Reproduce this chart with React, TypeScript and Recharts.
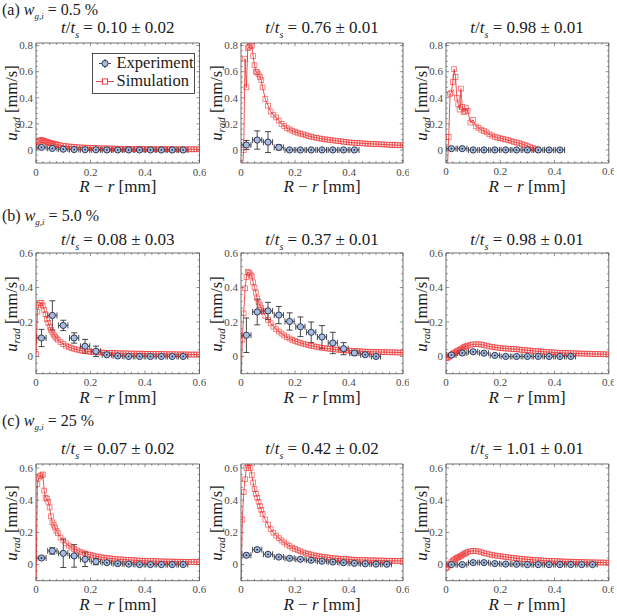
import React from "react";
import { ScatterChart, Scatter, XAxis, YAxis, ErrorBar } from "recharts";

// shared x grid of the simulation curves [mm]
const SIM_X = [
  0, 0.005, 0.01, 0.015, 0.02, 0.025, 0.03, 0.035, 0.04, 0.045, 0.05, 0.055, 0.06, 0.065, 0.07, 0.075, 0.08,
  0.09, 0.1, 0.11, 0.12, 0.13, 0.14, 0.15, 0.16, 0.17, 0.18, 0.19, 0.2,
  0.21, 0.22, 0.23, 0.24, 0.25, 0.26, 0.27, 0.28, 0.29, 0.3,
  0.31, 0.32, 0.33, 0.34, 0.35, 0.36, 0.37, 0.38, 0.39, 0.4,
  0.41, 0.42, 0.43, 0.44, 0.45, 0.46, 0.47, 0.48, 0.49, 0.5,
  0.51, 0.52, 0.53, 0.54, 0.55, 0.56, 0.57, 0.58, 0.59, 0.6,
];

// simulation u_rad [mm/s]
const SIM_A1 = [
  0.03, 0.06, 0.07, 0.075, 0.075, 0.073, 0.07, 0.066, 0.062, 0.058, 0.055, 0.052, 0.049, 0.046, 0.044, 0.042, 0.04,
  0.036, 0.032, 0.029, 0.027, 0.025, 0.023, 0.021, 0.02, 0.019, 0.018, 0.017, 0.016,
  0.015, 0.014, 0.013, 0.013, 0.012, 0.012, 0.011, 0.011, 0.01, 0.01,
  0.009, 0.009, 0.009, 0.008, 0.008, 0.008, 0.007, 0.007, 0.007, 0.007,
  0.006, 0.006, 0.006, 0.006, 0.006, 0.006, 0.006, 0.006, 0.006, 0.006,
  0.005, 0.005, 0.005, 0.005, 0.005, 0.005, 0.005, 0.005, 0.005, 0.005,
];
const SIM_A2 = [
  null, -0.15, 0.0, 0.7, 0.48, 0.78, 0.79, 0.8, 0.8, 0.72, 0.65, 0.6, 0.595, 0.58, 0.56, 0.535, 0.48,
  0.39, 0.34, 0.295, 0.27, 0.25, 0.225, 0.2, 0.183, 0.168, 0.157, 0.148, 0.14,
  0.132, 0.125, 0.12, 0.113, 0.107, 0.102, 0.097, 0.093, 0.089, 0.085,
  0.082, 0.079, 0.076, 0.074, 0.071, 0.068, 0.066, 0.063, 0.061, 0.058,
  0.056, 0.055, 0.053, 0.052, 0.051, 0.049, 0.048, 0.047, 0.046, 0.045,
  0.044, 0.043, 0.042, 0.041, 0.04, 0.039, 0.038, 0.037, 0.036, 0.036,
];
const SIM_A3 = [
  null, -0.15, 0.1, 0.43, 0.44, 0.52, 0.62, 0.56, 0.4, 0.35, 0.31, 0.47, 0.33, 0.29, 0.3, 0.32, 0.3,
  0.21, 0.23, 0.18, 0.17, 0.155, 0.145, 0.135, 0.12, 0.11, 0.1, 0.095, 0.09,
  0.085, 0.08, 0.075, 0.068, 0.062, 0.057, 0.052, 0.045, 0.038, 0.03,
  0.022, 0.015, 0.008, 0.002, null, null, null, null, null, null,
  null, null, null, null, null, null, null, null, null, null,
  null, null, null, null, null, null, null, null, null, null,
];
const SIM_B1 = [
  0.015, 0.26, 0.3, 0.31, 0.31, 0.295, 0.27, 0.245, 0.215, 0.195, 0.172, 0.155, 0.14, 0.127, 0.115, 0.105, 0.097,
  0.083, 0.072, 0.062, 0.055, 0.049, 0.044, 0.04, 0.036, 0.033, 0.031, 0.029, 0.027,
  0.026, 0.025, 0.024, 0.023, 0.022, 0.021, 0.021, 0.02, 0.019, 0.019,
  0.018, 0.018, 0.018, 0.017, 0.017, 0.017, 0.016, 0.016, 0.016, 0.016,
  0.015, 0.015, 0.015, 0.014, 0.014, 0.014, 0.014, 0.013, 0.013, 0.013,
  0.013, 0.012, 0.012, 0.012, 0.012, 0.011, 0.011, 0.011, 0.011, 0.011,
];
const SIM_B2 = [
  -0.15, 0.098, 0.25, 0.395, 0.46, 0.49, 0.485, 0.475, 0.465, 0.43, 0.4, 0.37, 0.336, 0.315, 0.297, 0.28, 0.263,
  0.235, 0.212, 0.192, 0.173, 0.158, 0.145, 0.133, 0.122, 0.112, 0.104, 0.096, 0.09,
  0.084, 0.079, 0.074, 0.07, 0.066, 0.062, 0.059, 0.056, 0.053, 0.05,
  0.048, 0.046, 0.044, 0.042, 0.04, 0.039, 0.037, 0.036, 0.035, 0.034,
  0.033, 0.032, 0.031, 0.03, 0.029, 0.028, 0.028, 0.027, 0.027, 0.026,
  0.026, 0.025, 0.025, 0.025, 0.024, 0.024, 0.024, 0.023, 0.023, 0.023,
];
const SIM_B3 = [
  -0.01, -0.008, -0.003, 0.004, 0.01, 0.015, 0.02, 0.025, 0.03, 0.034, 0.038, 0.042, 0.047, 0.052, 0.056, 0.06, 0.063,
  0.067, 0.07, 0.071, 0.071, 0.069, 0.066, 0.062, 0.058, 0.055, 0.053, 0.051, 0.049,
  0.047, 0.046, 0.045, 0.044, 0.043, 0.042, 0.04, 0.038, 0.037, 0.036,
  0.034, 0.033, 0.031, 0.03, 0.029, 0.027, 0.026, 0.025, 0.024, 0.023,
  0.022, 0.021, 0.021, 0.02, 0.019, 0.019, 0.018, 0.018, 0.017, 0.017,
  0.016, 0.016, 0.015, 0.015, 0.014, 0.014, 0.013, 0.013, 0.012, 0.012,
];
const SIM_C1 = [
  -0.12, 0.5, 0.54, 0.55, 0.555, 0.56, 0.46, 0.415, 0.41, 0.39, 0.355, 0.3, 0.262, 0.248, 0.23, 0.21, 0.195,
  0.168, 0.15, 0.132, 0.118, 0.106, 0.097, 0.089, 0.081, 0.075, 0.069, 0.064, 0.06,
  0.056, 0.052, 0.049, 0.046, 0.043, 0.041, 0.039, 0.037, 0.035, 0.033,
  0.032, 0.031, 0.03, 0.029, 0.028, 0.027, 0.026, 0.025, 0.024, 0.024,
  0.023, 0.022, 0.022, 0.021, 0.021, 0.02, 0.02, 0.019, 0.019, 0.019,
  0.018, 0.018, 0.018, 0.017, 0.017, 0.017, 0.016, 0.016, 0.016, 0.016,
];
const SIM_C2 = [
  -0.15, 0.28, 0.45, 0.53, 0.6, 0.615, 0.63, 0.6, 0.555, 0.51, 0.47, 0.44, 0.415, 0.39, 0.363, 0.34, 0.315,
  0.28, 0.248, 0.22, 0.198, 0.18, 0.164, 0.15, 0.138, 0.125, 0.115, 0.105, 0.097,
  0.09, 0.083, 0.076, 0.07, 0.066, 0.062, 0.058, 0.055, 0.052, 0.049,
  0.047, 0.045, 0.042, 0.04, 0.039, 0.037, 0.036, 0.035, 0.034, 0.032,
  0.031, 0.03, 0.03, 0.029, 0.028, 0.028, 0.027, 0.027, 0.026, 0.026,
  0.025, 0.025, 0.025, 0.024, 0.024, 0.024, 0.023, 0.023, 0.023, 0.023,
];
const SIM_C3 = [
  -0.02, -0.015, -0.005, 0.005, 0.015, 0.024, 0.03, 0.036, 0.041, 0.045, 0.049, 0.054, 0.059, 0.064, 0.069, 0.074, 0.078,
  0.083, 0.085, 0.085, 0.082, 0.077, 0.072, 0.068, 0.064, 0.06, 0.057, 0.054, 0.052,
  0.05, 0.047, 0.045, 0.043, 0.041, 0.039, 0.037, 0.035, 0.034, 0.032,
  0.031, 0.029, 0.028, 0.027, 0.026, 0.025, 0.024, 0.023, 0.022, 0.022,
  0.021, 0.02, 0.02, 0.019, 0.018, 0.018, 0.017, 0.017, 0.016, 0.016,
  0.015, 0.015, 0.014, 0.014, 0.014, 0.013, 0.013, 0.013, 0.012, 0.012,
];

// experiment: positions, values and vertical error bars
const EXP_X = [0.02, 0.06, 0.1, 0.14, 0.18, 0.22, 0.26, 0.3, 0.34, 0.38, 0.42, 0.46, 0.5, 0.54];
const EXP_XERR = 0.017;
const EXP_A1 = [0.02, 0.012, 0.006, 0.003, 0.002, 0.001, 0, 0, 0, 0, 0, 0, 0, 0];
const ERR_A1 = [0.01, 0.008, 0.005, 0.004, 0.003, 0.003, 0.003, 0.003, 0.003, 0.003, 0.003, 0.003, 0.003, 0.003];
const EXP_A2 = [0.038, 0.076, 0.06, 0.02, 0, 0, 0, 0, 0, 0, 0];
const ERR_A2 = [0.035, 0.07, 0.08, 0.02, 0.005, 0.004, 0.004, 0.004, 0.004, 0.004, 0.004];
const EXP_A3 = [0.01, 0.01, 0, 0, 0, 0, 0, 0, 0, 0, 0];
const ERR_A3 = [0.008, 0.008, 0.004, 0.004, 0.004, 0.004, 0.004, 0.004, 0.004, 0.004, 0.004];
const EXP_B1 = [0.107, 0.238, 0.18, 0.107, 0.059, 0.03, 0.01, 0.003, 0, 0, 0, 0, 0, 0];
const ERR_B1 = [0.05, 0.085, 0.03, 0.03, 0.04, 0.03, 0.01, 0.006, 0.004, 0.004, 0.004, 0.004, 0.004, 0.004];
const EXP_B2 = [0.123, 0.258, 0.264, 0.24, 0.203, 0.172, 0.14, 0.113, 0.078, 0.045, 0.02, 0.01, 0.0];
const ERR_B2 = [0.1, 0.075, 0.05, 0.05, 0.05, 0.057, 0.06, 0.066, 0.062, 0.035, 0.015, 0.01, 0.006];
const EXP_B3 = [0.008, 0.02, 0.027, 0.019, 0.006, 0, 0, 0, 0, 0, 0, 0];
const ERR_B3 = [0.006, 0.01, 0.008, 0.008, 0.006, 0.004, 0.004, 0.004, 0.004, 0.004, 0.004, 0.004];
const EXP_C1 = [0.041, 0.085, 0.07, 0.054, 0.033, 0.019, 0.012, 0.006, 0.003, 0, 0, 0, 0, 0];
const ERR_C1 = [0.01, 0.02, 0.088, 0.07, 0.045, 0.02, 0.01, 0.008, 0.005, 0.004, 0.004, 0.004, 0.004, 0.004];
const EXP_C2 = [0.058, 0.093, 0.064, 0.047, 0.039, 0.033, 0.027, 0.021, 0.016, 0.012, 0.008, 0.005, 0.003, 0.002];
const ERR_C2 = [0.012, 0.012, 0.01, 0.01, 0.01, 0.008, 0.008, 0.008, 0.006, 0.006, 0.006, 0.005, 0.005, 0.005];
const EXP_C3 = [0, 0, 0.012, 0.012, 0.006, 0.003, 0.002, 0, 0, 0, 0, 0, 0, 0];
const ERR_C3 = [0.006, 0.006, 0.006, 0.006, 0.005, 0.004, 0.004, 0.004, 0.004, 0.004, 0.004, 0.004, 0.004, 0.004];

const X_TICKS = [0, 0.2, 0.4, 0.6];
const Y_TICKS_A = [0, 0.2, 0.4, 0.6, 0.8];
const Y_TICKS_BC = [0, 0.2, 0.4, 0.6];

const ROW_TAGS = ["(a)", "(b)", "(c)"];
const ROW_W = ["0.5 %", "5.0 %", "25 %"];
const TIMES = [
  ["0.10 ± 0.02", "0.76 ± 0.01", "0.98 ± 0.01"],
  ["0.08 ± 0.03", "0.37 ± 0.01", "0.98 ± 0.01"],
  ["0.07 ± 0.02", "0.42 ± 0.02", "1.01 ± 0.01"],
];

const SIMS = [
  [SIM_A1, SIM_A2, SIM_A3],
  [SIM_B1, SIM_B2, SIM_B3],
  [SIM_C1, SIM_C2, SIM_C3],
];
const EXPS = [
  [[EXP_A1, ERR_A1], [EXP_A2, ERR_A2], [EXP_A3, ERR_A3]],
  [[EXP_B1, ERR_B1], [EXP_B2, ERR_B2], [EXP_B3, ERR_B3]],
  [[EXP_C1, ERR_C1], [EXP_C2, ERR_C2], [EXP_C3, ERR_C3]],
];

const FONT = "'Liberation Serif', 'DejaVu Serif', serif";
const AXIS = "#4d4d4d";
const TICK_TEXT = "#4a4a4a";
const RED = "#ee2a2a";
const BLUE_FILL = "#a6bce0";
const NAVY = "#1f2a46";

// plot area geometry (page pixels)
const ROWS = [
  { top: 43.3, h: 120, domain: [-0.1, 0.82], ticks: Y_TICKS_A },
  { top: 253.3, h: 120.7, domain: [-0.1, 0.6], ticks: Y_TICKS_BC },
  { top: 464.3, h: 116.7, domain: [-0.1, 0.625], ticks: Y_TICKS_BC },
];
const COLS = [
  { left: 36, w: 163.5 },
  { left: 241, w: 162 },
  { left: 445.7, w: 162.8 },
];
const ML = 30;
const MR = 6;
const MT = 6;
const MB = 16;
const AX = 1; // thickness reserved by each axis

const X_MINOR = Array.from({ length: 25 }, (_, k) => +(k * 0.025).toFixed(3));
const yMinor = (max: number) => {
  const out: number[] = [];
  for (let k = -2; k * 0.04 <= max + 1e-9; k++) out.push(+(k * 0.04).toFixed(2));
  return out;
};
const isMajor = (v: number, majors: number[]) => majors.some((m) => Math.abs(m - v) < 1e-6);
const fmt = (v: number) => (Math.abs(v) < 1e-9 ? "0" : String(+v.toFixed(1)));

function xTick(side: "bottom" | "top") {
  return (p: any) => {
    const v = p.payload.value;
    const major = isMajor(v, X_TICKS);
    const len = major ? 3.2 : 1.8;
    const dir = side === "bottom" ? -1 : 1;
    return (
      <g>
        <line x1={p.x} x2={p.x} y1={p.y} y2={p.y + dir * len} stroke={AXIS} strokeWidth={0.6} />
        {major && side === "bottom" && (
          <text x={p.x} y={p.y + 12.5} textAnchor="middle" fontFamily={FONT} fontSize={11} fill={TICK_TEXT}>
            {fmt(v)}
          </text>
        )}
      </g>
    );
  };
}

function yTick(side: "left" | "right", majors: number[]) {
  return (p: any) => {
    const v = p.payload.value;
    const major = isMajor(v, majors);
    const len = major ? 3.2 : 1.8;
    const dir = side === "left" ? 1 : -1;
    return (
      <g>
        <line x1={p.x} x2={p.x + dir * len} y1={p.y} y2={p.y} stroke={AXIS} strokeWidth={0.6} />
        {major && side === "left" && (
          <text x={p.x - 3} y={p.y + 3.8} textAnchor="end" fontFamily={FONT} fontSize={11} fill={TICK_TEXT}>
            {fmt(v)}
          </text>
        )}
      </g>
    );
  };
}

const SimSquare = (p: any) => {
  if (p.cx == null || p.cy == null) return <g />;
  return (
    <rect
      x={p.cx - 2.4}
      y={p.cy - 2.4}
      width={4.8}
      height={4.8}
      fill="none"
      stroke={RED}
      strokeOpacity={0.7}
      strokeWidth={0.8}
    />
  );
};

const ExpDot = (p: any) => {
  if (p.cx == null || p.cy == null) return <g />;
  const ey = p.payload?.ey ?? p.ey ?? 1;
  return (
    <g>
      <circle cx={p.cx} cy={p.cy} r={3.1} fill={BLUE_FILL} stroke={NAVY} strokeWidth={0.9} />
      {ey <= 0.012 && <circle cx={p.cx} cy={p.cy} r={0.9} fill={NAVY} />}
    </g>
  );
};

function Panel({ r, c }: { r: number; c: number }) {
  const R = ROWS[r];
  const C = COLS[c];
  const sim = SIMS[r][c];
  const [ev, ee] = EXPS[r][c];
  const simData = SIM_X.map((x, i) => ({ x, y: sim[i] })).filter((d) => d.y !== null);
  const expData = ev.map((y, i) => ({ x: EXP_X[i], y, ey: ee[i], ex: EXP_XERR }));
  const yTicks = yMinor(R.domain[1]);

  return (
    <div style={{ position: "absolute", left: C.left - ML, top: R.top - MT }}>
      <ScatterChart
        width={C.w + ML + MR}
        height={R.h + MT + MB}
        margin={{ top: MT - AX, right: MR - AX, bottom: MB - AX, left: ML - AX }}
      >
        <XAxis
          xAxisId="b"
          type="number"
          dataKey="x"
          domain={[0, 0.6]}
          allowDataOverflow
          ticks={X_MINOR}
          interval={0}
          height={AX}
          tickSize={0}
          tickMargin={0}
          tickLine={false}
          axisLine={{ stroke: AXIS, strokeWidth: 0.8 }}
          tick={xTick("bottom")}
        />
        <XAxis
          xAxisId="t"
          orientation="top"
          type="number"
          dataKey="x"
          domain={[0, 0.6]}
          allowDataOverflow
          ticks={X_MINOR}
          interval={0}
          height={AX}
          tickSize={0}
          tickMargin={0}
          tickLine={false}
          axisLine={{ stroke: AXIS, strokeWidth: 0.8 }}
          tick={xTick("top")}
        />
        <YAxis
          yAxisId="l"
          type="number"
          dataKey="y"
          domain={R.domain}
          allowDataOverflow
          ticks={yTicks}
          interval={0}
          width={AX}
          tickSize={0}
          tickMargin={0}
          tickLine={false}
          axisLine={{ stroke: AXIS, strokeWidth: 0.8 }}
          tick={yTick("left", R.ticks)}
        />
        <YAxis
          yAxisId="r"
          orientation="right"
          type="number"
          dataKey="y"
          domain={R.domain}
          allowDataOverflow
          ticks={yTicks}
          interval={0}
          width={AX}
          tickSize={0}
          tickMargin={0}
          tickLine={false}
          axisLine={{ stroke: AXIS, strokeWidth: 0.8 }}
          tick={yTick("right", R.ticks)}
        />
        <Scatter
          xAxisId="b"
          yAxisId="l"
          data={simData}
          line={{ stroke: RED, strokeWidth: 0.9, strokeOpacity: 0.9 }}
          lineType="joint"
          shape={SimSquare}
          isAnimationActive={false}
        />
        <Scatter
          xAxisId="b"
          yAxisId="l"
          data={expData}
          shape={ExpDot}
          isAnimationActive={false}
        >
          <ErrorBar dataKey="ey" direction="y" width={3} stroke="#1a1a1a" strokeWidth={0.8} />
          <ErrorBar dataKey="ex" direction="x" width={3} stroke="#1a1a1a" strokeWidth={0.8} />
        </Scatter>
      </ScatterChart>
    </div>
  );
}

const txt = (fs: number): React.CSSProperties => ({
  position: "absolute",
  fontFamily: FONT,
  fontSize: fs,
  lineHeight: 1,
  whiteSpace: "nowrap",
  color: "#1a1a1a",
});

function Legend() {
  return (
    <svg width={103} height={41} style={{ position: "absolute", left: 92, top: 53 }}>
      <rect x={0.5} y={0.5} width={102} height={40} fill="white" stroke="#222" strokeWidth={0.8} />
      <line x1={13} x2={13} y1={6} y2={15} stroke="#1a1a1a" strokeWidth={0.8} />
      <line x1={7} x2={19} y1={10.5} y2={10.5} stroke="#1a1a1a" strokeWidth={0.8} />
      <circle cx={13} cy={10.5} r={3.1} fill={BLUE_FILL} stroke={NAVY} strokeWidth={0.9} />
      <text x={24.5} y={15} fontFamily={FONT} fontSize={16.5} fill="#1a1a1a">
        Experiment
      </text>
      <line x1={4} x2={22} y1={28.5} y2={28.5} stroke={RED} strokeWidth={0.9} />
      <rect x={10.4} y={25.9} width={5.2} height={5.2} fill="white" stroke={RED} strokeWidth={0.9} />
      <text x={24.5} y={33} fontFamily={FONT} fontSize={16.5} fill="#1a1a1a">
        Simulation
      </text>
    </svg>
  );
}

const TITLE_BASE = [33.5, 245, 454.3];
const TAG_TOP = [1, 207, 412];

export default function App() {
  return (
    <div
      style={{
        position: "absolute",
        left: 0,
        top: 0,
        width: 617,
        height: 616,
        background: "white",
        overflow: "hidden",
      }}
    >
      {ROWS.map((R, r) => (
        <React.Fragment key={r}>
          <div style={{ ...txt(16), left: 2, top: TAG_TOP[r], lineHeight: 1.1 }}>
            {ROW_TAGS[r]} <i>w</i>
            <span style={{ fontSize: 9, position: "relative", top: 4 }}>
              <i>g,i</i>
            </span>{" "}
            = {ROW_W[r]}
          </div>
          {COLS.map((C, c) => (
            <React.Fragment key={c}>
              <div
                style={{
                  ...txt(17),
                  left: C.left + C.w / 2,
                  top: TITLE_BASE[r] - 14.2,
                  transform: "translateX(-50%)",
                }}
              >
                <i>t</i>/<i>t</i>
                <span style={{ fontSize: 10, position: "relative", top: 5 }}>
                  <i>s</i>
                </span>{" "}
                = {TIMES[r][c]}
              </div>
              <Panel r={r} c={c} />
              <div
                style={{
                  ...txt(17),
                  left: C.left + C.w / 2,
                  top: R.top + R.h + 29 - 14.2,
                  transform: "translateX(-50%)",
                }}
              >
                <i>R</i> − <i>r</i> [mm]
              </div>
              <div
                style={{
                  ...txt(16.5),
                  left: C.left - 24,
                  top: R.top + R.h / 2,
                  transform: "translate(-50%, -50%) rotate(-90deg)",
                }}
              >
                <i>u</i>
                <span style={{ fontSize: 11, position: "relative", top: 3 }}>
                  <i>rad</i>
                </span>{" "}
                [mm/s]
              </div>
            </React.Fragment>
          ))}
        </React.Fragment>
      ))}
      <Legend />
    </div>
  );
}
